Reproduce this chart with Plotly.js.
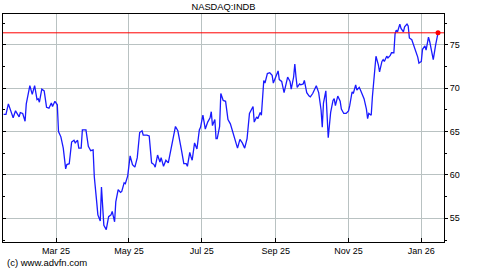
<!DOCTYPE html>
<html>
<head>
<meta charset="utf-8">
<script src="https://cdn.plot.ly/plotly-3.0.1.min.js"></script>
<style>html,body{margin:0;padding:0;background:#fff;}#chart{width:480px;height:270px;}</style>
</head>
<body>
<div id="chart"></div>
<script>
const chartTitle = "NASDAQ:INDB";
const copyright = "(c) www.advfn.com";

const dates = [
"2025-01-16","2025-01-18","2025-01-20","2025-01-22","2025-01-24","2025-01-26","2025-01-29","2025-01-30",
"2025-02-01","2025-02-03","2025-02-04","2025-02-07","2025-02-09","2025-02-11","2025-02-13","2025-02-14",
"2025-02-15","2025-02-17","2025-02-19","2025-02-21","2025-02-23","2025-02-25","2025-02-26","2025-02-28",
"2025-03-02","2025-03-03","2025-03-05","2025-03-07","2025-03-09","2025-03-10","2025-03-12","2025-03-14",
"2025-03-16","2025-03-17","2025-03-19","2025-03-20","2025-03-22","2025-03-23","2025-03-26","2025-03-28",
"2025-03-30","2025-04-01","2025-04-02","2025-04-04","2025-04-05","2025-04-07","2025-04-08","2025-04-10",
"2025-04-12","2025-04-14","2025-04-16","2025-04-17","2025-04-19","2025-04-20","2025-04-22","2025-04-24",
"2025-04-25","2025-04-27","2025-04-28","2025-04-30","2025-05-02","2025-05-04","2025-05-06","2025-05-08",
"2025-05-10","2025-05-12","2025-05-13","2025-05-16","2025-05-18","2025-05-20","2025-05-22","2025-05-23",
"2025-05-25","2025-05-27","2025-05-28","2025-05-30","2025-06-01","2025-06-03","2025-06-06","2025-06-09",
"2025-06-11","2025-06-13","2025-06-14","2025-06-16","2025-06-18","2025-06-19","2025-06-21","2025-06-22",
"2025-06-23","2025-06-25","2025-06-27","2025-06-29","2025-06-30","2025-07-02","2025-07-04","2025-07-06",
"2025-07-08","2025-07-09","2025-07-10","2025-07-12","2025-07-13","2025-07-14","2025-07-16","2025-07-17",
"2025-07-19","2025-07-21","2025-07-22","2025-07-23","2025-07-25","2025-07-27","2025-07-29","2025-07-31",
"2025-08-02","2025-08-04","2025-08-06","2025-08-08","2025-08-10","2025-08-13","2025-08-14","2025-08-16",
"2025-08-17","2025-08-19","2025-08-20","2025-08-21","2025-08-22","2025-08-23","2025-08-25","2025-08-27",
"2025-08-29","2025-08-30","2025-09-01","2025-09-03","2025-09-04","2025-09-06","2025-09-08","2025-09-09",
"2025-09-10","2025-09-11","2025-09-13","2025-09-14","2025-09-16","2025-09-17","2025-09-18","2025-09-19",
"2025-09-21","2025-09-22","2025-09-24","2025-09-25","2025-09-26","2025-09-27","2025-09-29","2025-09-30",
"2025-10-02","2025-10-04","2025-10-05","2025-10-07","2025-10-08","2025-10-09","2025-10-10","2025-10-11",
"2025-10-13","2025-10-14","2025-10-15","2025-10-17","2025-10-19","2025-10-20","2025-10-21","2025-10-23",
"2025-10-25","2025-10-26","2025-10-28","2025-10-30","2025-11-01","2025-11-02","2025-11-04","2025-11-05",
"2025-11-07","2025-11-08","2025-11-10","2025-11-11","2025-11-13","2025-11-14","2025-11-16","2025-11-17",
"2025-11-18","2025-11-20","2025-11-21","2025-11-23","2025-11-24","2025-11-26","2025-11-27","2025-11-29",
"2025-11-30","2025-12-01","2025-12-03","2025-12-04","2025-12-06","2025-12-07","2025-12-09","2025-12-10",
"2025-12-11","2025-12-12","2025-12-14","2025-12-15","2025-12-17","2025-12-18","2025-12-20","2025-12-21",
"2025-12-22","2025-12-24","2025-12-26","2025-12-27","2025-12-29","2025-12-30","2026-01-01","2026-01-02",
"2026-01-04","2026-01-05","2026-01-07","2026-01-08","2026-01-10","2026-01-11","2026-01-13","2026-01-14",
"2026-01-15"
];

const prices = [
67.0,67.0,68.2,67.4,66.6,67.4,66.7,67.2,
67.1,66.2,68.2,70.3,69.3,70.3,68.7,68.8,
68.4,69.9,69.7,67.8,67.7,68.3,67.9,68.5,
68.1,65.0,64.4,63.1,60.7,61.2,61.3,63.8,
64.0,63.7,64.0,63.1,63.1,65.2,65.2,63.3,
62.8,62.9,59.8,56.9,55.4,54.7,58.6,54.2,
53.7,55.2,55.4,55.8,54.6,56.9,58.3,58.0,
58.1,59.1,59.0,59.9,62.2,61.2,60.9,62.0,
64.9,65.1,64.6,64.6,64.5,61.4,61.2,60.9,
62.3,61.5,62.0,61.0,61.7,61.4,63.7,65.6,
65.1,63.3,62.9,61.3,61.3,61.0,62.6,62.1,
61.7,63.7,63.0,65.2,65.5,66.9,65.3,66.1,
66.6,67.3,65.7,66.4,64.2,64.2,65.6,69.4,
68.6,68.5,67.5,66.4,65.9,65.0,64.1,63.1,
64.1,63.7,63.1,64.2,67.1,67.9,66.1,66.7,
66.5,67.2,66.9,69.1,70.9,70.6,71.7,71.8,
71.5,70.6,71.3,72.0,71.0,70.8,69.5,70.1,
70.6,71.3,70.8,69.9,71.3,72.8,71.3,70.1,
70.5,70.4,70.5,70.9,70.2,69.5,69.1,69.0,
69.4,69.9,70.3,69.5,68.7,67.5,65.5,68.3,
69.7,67.4,64.3,67.2,68.6,68.8,68.0,69.1,
68.5,67.6,67.1,67.1,67.4,68.0,69.6,69.4,
70.4,69.8,70.1,69.8,69.0,68.8,67.6,66.5,
67.1,66.9,69.0,72.2,73.7,72.7,71.9,73.1,
73.3,73.1,73.7,73.5,73.8,74.1,74.1,76.3,
76.7,76.5,77.4,76.9,76.5,77.1,77.4,77.2,
75.8,75.6,74.8,74.2,73.6,72.9,73.1,74.5,
74.9,74.4,75.9,75.4,73.9,73.3,75.0,75.9,
76.4
];

const tickDates = ["2025-03-01","2025-05-01","2025-07-01","2025-09-01","2025-11-01","2026-01-01"];
const tickLabels = ["Mar 25","May 25","Jul 25","Sep 25","Nov 25","Jan 26"];
const yTicks = [55,60,65,70,75];

const lastDate = dates[dates.length-1];
const lastPrice = prices[prices.length-1];
const font = "Liberation Sans, Arial, sans-serif";
const gridCol = "#b9c2c2";
const yRange = [52.27, 78.57];

const traces = [
  {x: dates, y: prices, type: "scatter", mode: "lines",
   line: {color: "#1a1aff", width: 1.3}, hoverinfo: "skip"},
  {x: [lastDate], y: [lastPrice], type: "scatter", mode: "markers",
   marker: {color: "#ff0000", size: 5}, hoverinfo: "skip"},
  {x: [lastDate], y: [lastPrice], type: "scatter", mode: "none", yaxis: "y2", hoverinfo: "skip"}
];

const layout = {
  width: 480, height: 270,
  margin: {l: 3, r: 36, t: 14, b: 28},
  paper_bgcolor: "#ffffff", plot_bgcolor: "#ffffff",
  showlegend: false,
  font: {family: font, size: 9, color: "#000"},
  title: {text: chartTitle, x: 0.5, xanchor: "center", xref: "paper",
          y: 0.974, yref: "container", yanchor: "middle",
          font: {family: font, size: 9.3, color: "#000"}},
  xaxis: {type: "date", range: ["2025-01-15 12:00", "2026-01-20"],
          tickmode: "array", tickvals: tickDates, ticktext: tickLabels,
          showgrid: true, gridcolor: gridCol, gridwidth: 1,
          ticks: "inside", ticklen: 4, tickcolor: "#000", tickwidth: 1,
          showline: true, linecolor: "#000", linewidth: 1, mirror: true,
          zeroline: false, fixedrange: true,
          tickfont: {family: font, size: 9, color: "#000"}},
  yaxis: {range: yRange, side: "right",
          tickmode: "array", tickvals: yTicks,
          showgrid: true, gridcolor: gridCol, gridwidth: 1,
          ticks: "outside", ticklen: 3, tickcolor: "#000", tickwidth: 1,
          minor: {dtick: 2.5, tick0: 52.5, ticks: "outside", ticklen: 2, tickcolor: "#000", showgrid: false},
          showline: true, linecolor: "#000", linewidth: 1, mirror: true,
          zeroline: false, fixedrange: true,
          tickfont: {family: font, size: 9, color: "#000"}},
  yaxis2: {range: yRange, overlaying: "y", side: "left",
          tickmode: "array", tickvals: yTicks, showticklabels: false,
          showgrid: false, zeroline: false, showline: false, fixedrange: true,
          ticks: "inside", ticklen: 3, tickcolor: "#000", tickwidth: 1,
          minor: {dtick: 2.5, tick0: 52.5, ticks: "inside", ticklen: 2, tickcolor: "#000", showgrid: false}},
  shapes: [
    {type: "line", xref: "paper", x0: 0, x1: 1, yref: "y", y0: lastPrice, y1: lastPrice,
     line: {color: "#ff0000", width: 1}}
  ],
  annotations: [
    {text: copyright, xref: "paper", x: 0.005, xanchor: "left",
     yref: "paper", y: -0.092, yanchor: "middle", showarrow: false,
     font: {family: font, size: 9.5, color: "#000"}}
  ]
};

Plotly.newPlot("chart", traces, layout, {staticPlot: true, displayModeBar: false});
</script>
</body>
</html>
